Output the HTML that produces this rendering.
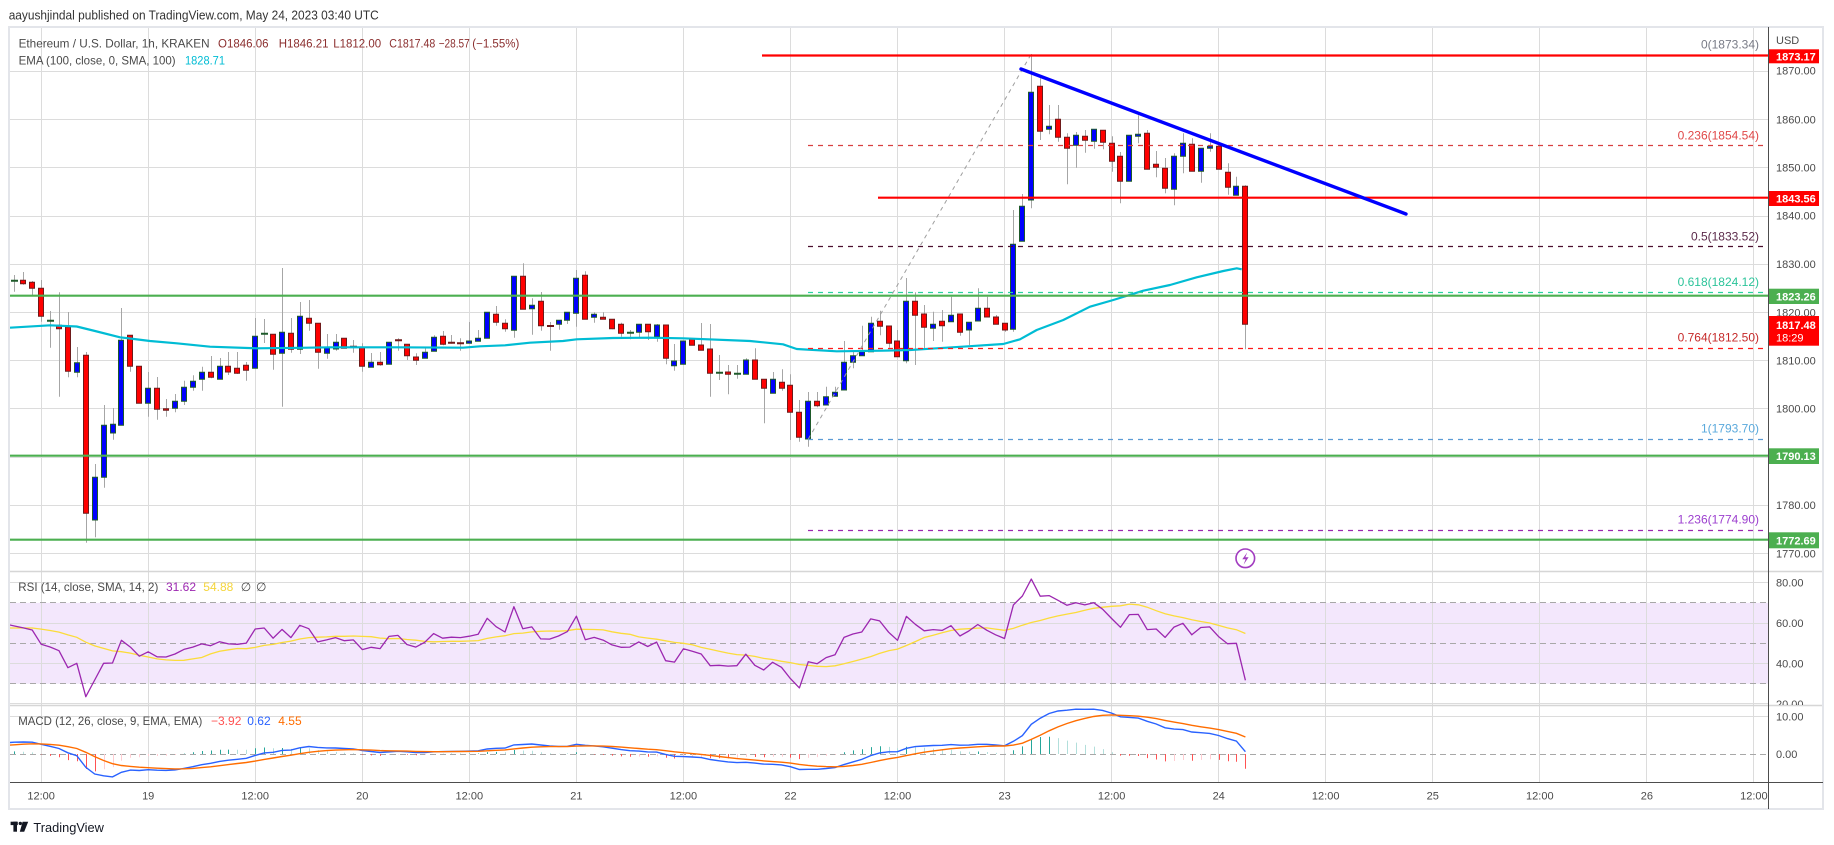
<!DOCTYPE html>
<html><head><meta charset="utf-8"><title>ETH/USD 1h</title>
<style>
html,body{margin:0;padding:0;background:#fff}
body{width:1834px;height:845px;overflow:hidden;position:relative}
svg{position:absolute;left:0;top:0;display:block}
text{font-family:"Liberation Sans",Arial,sans-serif}
</style></head><body>
<svg width="1834" height="845" viewBox="0 0 1834 845" xmlns="http://www.w3.org/2000/svg">
<defs>
<clipPath id="cm"><rect x="10" y="28" width="1758" height="543.5"/></clipPath>
<clipPath id="cr"><rect x="10" y="572" width="1758" height="133"/></clipPath>
<clipPath id="cd"><rect x="10" y="706" width="1758" height="76"/></clipPath>
<clipPath id="cax"><rect x="1769" y="572" width="60" height="133"/></clipPath>
</defs>
<rect width="1834" height="845" fill="#fff"/>
<rect x="10" y="602.9" width="1758" height="80.8" fill="#f3e7fc"/>

<!-- grid -->
<g stroke="#dcdcdc" stroke-width="1" fill="none">
<path d="M10 71.5H1768M10 119.5H1768M10 167.5H1768M10 216.5H1768M10 264.5H1768M10 312.5H1768M10 360.5H1768M10 408.5H1768M10 457.5H1768M10 505.5H1768M10 553.5H1768M10 582.5H1768M10 623.5H1768M10 663.5H1768M10 703.5H1768M10 716.5H1768"/>
<path d="M41.5 28V782M148.5 28V782M255.5 28V782M362.5 28V782M469.5 28V782M576.5 28V782M683.5 28V782M790.5 28V782M897.5 28V782M1004.5 28V782M1111.5 28V782M1218.5 28V782M1325.5 28V782M1432.5 28V782M1539.5 28V782M1646.5 28V782M1753.5 28V782"/>
</g>
<path d="M10 602.5H1768M10 643.5H1768M10 683.5H1768M10 754.5H1768" stroke="#a8a8a8" stroke-width="1" stroke-dasharray="6,4" fill="none"/>

<g clip-path="url(#cm)">
<!-- wicks -->
<path fill="none" stroke="#a6a6a6" stroke-width="1" d="M14.5 275V291.7M23.5 272V284.7M32.5 281V295M41.5 280V321.7M50.5 311V347.7M59.5 292.3V396.7M68.5 312V377.3M77.5 347V377.3M86.5 352V542.7M95.5 464V537.3M104.5 405V487.7M113.5 408V439.7M121.5 308V425.3M130.5 335.3V371.7M139.5 366.3V403.3M148.5 372V416.7M157.5 377V419.7M166.5 399V416.7M175.5 394V412.3M184.5 380.7V405M193.5 375.3V390.7M202.5 366.7V390.7M211.5 356V378.3M220.5 358V379.3M228.5 352V375M237.5 352V374M246.5 362V380.7M255.5 318V368.3M264.5 319V343M273.5 334.3V369.7M282.5 268V406.7M291.5 318V352.7M300.5 302V354M309.5 300V330.7M318.5 323.3V368.7M327.5 334V358.7M336.5 334V350.7M344.5 338.3V348.3M353.5 340V352.7M362.5 343.3V371.7M371.5 353V367.3M380.5 352V365.7M389.5 342.3V364.3M398.5 338.3V350.7M407.5 344.3V360M416.5 353.3V365M425.5 348.3V358.3M434.5 335.3V351.3M443.5 331V345.3M451.5 335V343.7M460.5 338.3V350.7M469.5 322V343.3M478.5 330V341.3M487.5 312.3V338.3M496.5 306V325.7M505.5 319.3V331.7M514.5 276.3V337.7M523.5 263.3V309.3M532.5 298.3V334.7M541.5 292V330.7M550.5 322V350.7M559.5 320.3V329.7M567.5 312.3V324M576.5 270V326.7M585.5 271.3V319.3M594.5 312.3V322.7M603.5 312.3V319.3M612.5 319.3V329.3M621.5 322.7V336.7M630.5 330V339.3M639.5 324.3V338.3M648.5 324.3V340M657.5 324V341.7M666.5 325V364.3M674.5 344V370.7M683.5 341V364.3M692.5 339V345.3M701.5 323V350.3M710.5 324V396.7M719.5 355V380M728.5 365V394.3M737.5 365V378.7M746.5 358.3V374.3M755.5 348.3V379.3M764.5 379.3V423.3M773.5 372V393.3M782.5 369.3V390.7M790.5 374.3V440M799.5 400V441.7M808.5 392V446.7M817.5 392V407.3M826.5 386.7V405M835.5 386.7V396.3M844.5 341V390M853.5 351.7V368.3M862.5 325.7V355.7M871.5 316.7V351.7M880.5 310.7V335.3M889.5 326V347.7M897.5 330V356.7M906.5 278V363.3M915.5 292.3V365M924.5 305V348.3M933.5 311.7V341M942.5 310V341.7M951.5 296.7V321.7M960.5 314V335.7M969.5 322.3V345M978.5 288.3V321M987.5 296.7V317M996.5 315V324.3M1005.5 323.3V331.7M1013.5 210V331.7M1022.5 194V241.3M1031.5 54V208.3M1040.5 78.3V140M1049.5 105V134.3M1058.5 105V141.7M1067.5 133.3V184.3M1076.5 132V167.7M1085.5 130V152.7M1094.5 129.3V148.7M1103.5 130.3V149.3M1112.5 136.3V171.7M1120.5 152V203.3M1129.5 135.3V181.3M1138.5 115.3V143.3M1147.5 130V169.3M1156.5 151V177.3M1165.5 158V193.3M1174.5 153.3V205.3M1183.5 133.3V173.3M1192.5 138.3V171.3M1201.5 148.3V182.7M1210.5 133.3V151.7M1219.5 146.3V169.3M1228.5 163.3V194.7M1236.5 176.7V195.3M1245.5 185.3V349.3"/>
<!-- up bodies -->
<path fill="#0000ff" stroke="#1e5a2a" stroke-width="1" d="M74.5 362.7h5v9.6h-5zM92.5 477.3h5v42.7h-5zM101.5 425.3h5v52h-5zM110.5 424.3h5v8.7h-5zM118.5 340.3h5v85h-5zM145.5 388.3h5v15h-5zM172.5 401.3h5v7h-5zM181.5 387.3h5v14h-5zM190.5 381.3h5v6h-5zM199.5 372.3h5v7h-5zM217.5 366.3h5v13h-5zM252.5 336.3h5v32h-5zM279.5 332.3h5v21h-5zM297.5 316.3h5v33h-5zM324.5 347.3h5v6h-5zM333.5 342.3h5v6.7h-5zM368.5 362.3h5v5h-5zM386.5 342.3h5v22h-5zM422.5 352.3h5v6h-5zM431.5 337.3h5v14h-5zM466.5 341h5v2.3h-5zM475.5 338.3h5v3h-5zM484.5 312.3h5v26h-5zM511.5 276.3h5v54h-5zM529.5 305.3h5v3.4h-5zM556.5 320.3h5v4h-5zM564.5 312.3h5v8h-5zM573.5 278.3h5v35h-5zM591.5 314.3h5v3h-5zM636.5 324.3h5v8h-5zM654.5 325h5v11.7h-5zM671.5 361h5v4.7h-5zM680.5 341h5v23.3h-5zM743.5 360h5v14.3h-5zM770.5 379.3h5v14h-5zM805.5 401.3h5v37.7h-5zM823.5 396.7h5v8.3h-5zM832.5 392.3h5v4h-5zM841.5 362.3h5v27.7h-5zM850.5 355.7h5v6.6h-5zM859.5 351.7h5v4h-5zM868.5 323.3h5v28.4h-5zM903.5 301.3h5v59.4h-5zM930.5 324.3h5v4h-5zM948.5 315.3h5v6.4h-5zM966.5 322.3h5v7.7h-5zM975.5 308.3h5v12.7h-5zM1010.5 244.3h5v85h-5zM1019.5 206.3h5v35h-5zM1028.5 92.3h5v107.7h-5zM1046.5 126.3h5v3h-5zM1073.5 135.3h5v10h-5zM1091.5 129.3h5v12h-5zM1126.5 135.3h5v46h-5zM1135.5 134.3h5v2h-5zM1171.5 156.3h5v33h-5zM1180.5 143.3h5v13h-5zM1198.5 148.3h5v23h-5zM1207.5 146.3h5v2h-5zM1233.5 186.3h5v9h-5z"/>
<!-- down bodies -->
<path fill="#ff0000" stroke="#6e1a1a" stroke-width="1" d="M20.5 280.3h5v3.4h-5zM29.5 282.3h5v6h-5zM38.5 288.3h5v28h-5zM56.5 325.3h5v3.4h-5zM65.5 327h5v44.3h-5zM83.5 355.3h5v158h-5zM127.5 335.3h5v31h-5zM136.5 366.3h5v37h-5zM154.5 388.3h5v21h-5zM163.5 408.7h5v1.6h-5zM208.5 372.3h5v5h-5zM225.5 366.3h5v5.7h-5zM234.5 368.3h5v5h-5zM243.5 365.3h5v5h-5zM270.5 334.3h5v20h-5zM288.5 333.3h5v16h-5zM306.5 318.3h5v5h-5zM315.5 323.3h5v29h-5zM341.5 338.3h5v10h-5zM359.5 347.3h5v19h-5zM377.5 362.3h5v2.4h-5zM404.5 344.3h5v11.4h-5zM413.5 357h5v3.3h-5zM440.5 336.3h5v8h-5zM493.5 314.3h5v8h-5zM502.5 323.3h5v5.4h-5zM520.5 276.3h5v33h-5zM538.5 301.3h5v24.4h-5zM582.5 275.3h5v44h-5zM600.5 317.3h5v2h-5zM609.5 319.3h5v9.4h-5zM618.5 324.3h5v9h-5zM645.5 324.3h5v7.4h-5zM663.5 325h5v33.3h-5zM689.5 339h5v6.3h-5zM698.5 345h5v5.3h-5zM707.5 349h5v24.3h-5zM725.5 372h5v2.3h-5zM752.5 360h5v19.3h-5zM761.5 379.3h5v9h-5zM779.5 382.3h5v6h-5zM787.5 385.3h5v27h-5zM796.5 412.3h5v25h-5zM814.5 401.3h5v4.4h-5zM877.5 321.3h5v5h-5zM886.5 326h5v17.3h-5zM894.5 341h5v15.7h-5zM912.5 301.3h5v14h-5zM921.5 314h5v13.3h-5zM939.5 321.3h5v4.4h-5zM957.5 314h5v18.3h-5zM984.5 308.3h5v8.7h-5zM993.5 317h5v7.3h-5zM1002.5 323.3h5v6.7h-5zM1037.5 86.3h5v45h-5zM1055.5 119.3h5v18h-5zM1064.5 137.3h5v11h-5zM1082.5 136.3h5v4h-5zM1100.5 130.3h5v12h-5zM1109.5 143.3h5v18h-5zM1117.5 156.3h5v25h-5zM1144.5 133.3h5v36h-5zM1153.5 164.3h5v3h-5zM1162.5 168.3h5v20h-5zM1189.5 144.3h5v27h-5zM1216.5 146.3h5v23h-5zM1225.5 172.3h5v15h-5zM1242.5 186.3h5v138h-5z"/>
<!-- doji -->
<path fill="#1e5a2a" d="M11 279.7h7v2h-7zM47 319.7h7v2h-7zM261 332.7h7v2h-7zM627 331.7h7v2h-7zM716 371.7h7v2h-7zM734 372.7h7v2h-7z"/>
<path fill="#6e1a1a" d="M350 345.7h7v2h-7zM395 339.3h7v2h-7zM448 341.7h7v2h-7zM457 342.3h7v2h-7zM547 325h7v2h-7z"/>
<!-- EMA -->
<polyline fill="none" stroke="#00bcd4" stroke-width="2.2" stroke-linejoin="round" points="10,327.7 50,325.3 76.7,326.5 95,331 120,337.3 150,341 176.7,343.3 210,346.7 256.7,348.3 300,347.8 330,347.3 396.7,347.3 463,347.7 480,346.3 505,345.3 530,342.7 563,341 576.7,339.3 613,338 650,337.7 683,338.3 750,341 783,344.3 796.7,349 836.7,351.3 883,350.7 910,350 936.7,348.3 970,346.2 1003.3,344 1020,339.3 1036.7,330 1063.3,320 1090,306.7 1113.3,300 1143.3,290.7 1170,285 1196.7,277.3 1223.3,271 1236.7,268.3 1241.7,269.3"/>
<!-- fib lines -->
<g stroke-width="1.2" stroke-dasharray="5,5" fill="none">
 <line x1="808" y1="55.5" x2="1768" y2="55.5" stroke="#787b86"/>
 <line x1="808" y1="145.5" x2="1768" y2="145.5" stroke="#d84040"/>
 <line x1="808" y1="246.5" x2="1768" y2="246.5" stroke="#4a0f2e"/>
 <line x1="808" y1="292.5" x2="1768" y2="292.5" stroke="#2bd4a0"/>
 <line x1="808" y1="348.5" x2="1768" y2="348.5" stroke="#ff1a1a"/>
 <line x1="808" y1="439.5" x2="1768" y2="439.5" stroke="#5b9bd5"/>
 <line x1="808" y1="530.5" x2="1768" y2="530.5" stroke="#9c27b0"/>
</g>
<line x1="808.3" y1="439" x2="1030.7" y2="55" stroke="#9e9e9e" stroke-width="1" stroke-dasharray="4,4"/>
<line x1="762" y1="55.5" x2="1768" y2="55.5" stroke="#ff0000" stroke-width="2.2"/>
<line x1="878" y1="197.7" x2="1768" y2="197.7" stroke="#ff0000" stroke-width="2.2"/>
<line x1="10" y1="295.7" x2="1768" y2="295.7" stroke="#4caf50" stroke-width="2.2"/>
<line x1="10" y1="455.7" x2="1768" y2="455.7" stroke="#4caf50" stroke-width="2.2"/>
<line x1="10" y1="539.7" x2="1768" y2="539.7" stroke="#4caf50" stroke-width="2.2"/>
<line x1="1021" y1="69" x2="1406" y2="214" stroke="#0000ff" stroke-width="3.4" stroke-linecap="round"/>
</g>

<!-- fib labels -->
<g font-size="12" text-anchor="end">
 <text x="1759" y="48.3" fill="#787b86">0(1873.34)</text>
 <text x="1759" y="139.3" fill="#e04848">0.236(1854.54)</text>
 <text x="1759" y="240.3" fill="#5b2a4a">0.5(1833.52)</text>
 <text x="1759" y="286" fill="#2cc49a">0.618(1824.12)</text>
 <text x="1759" y="341.5" fill="#c62a2a">0.764(1812.50)</text>
 <text x="1759" y="432.5" fill="#5aa9dc">1(1793.70)</text>
 <text x="1759" y="523.3" fill="#9c3fcf">1.236(1774.90)</text>
</g>

<!-- RSI -->
<g clip-path="url(#cr)" fill="none">
<polyline stroke="#fbdc3a" stroke-width="1.3" points="5.5,628.0 14.4,628.0 23.3,627.9 32.2,628.0 41.2,629.1 50.1,630.5 59.0,632.1 67.9,634.9 76.8,637.3 85.8,642.2 94.7,645.9 103.6,648.4 112.5,650.9 121.4,651.7 130.4,653.1 139.3,655.2 148.2,657.0 157.1,658.9 166.0,659.9 175.0,660.4 183.9,660.3 192.8,658.9 201.7,657.5 210.6,653.9 219.6,651.2 228.5,649.8 237.4,648.5 246.3,648.7 255.2,647.4 264.2,645.4 273.1,644.4 282.0,642.5 290.9,641.1 299.8,639.0 308.8,637.6 317.7,637.2 326.6,636.9 335.5,636.3 344.4,636.3 353.4,636.0 362.3,636.4 371.2,636.7 380.1,638.1 389.0,638.7 398.0,638.5 406.9,639.5 415.8,640.2 424.7,641.4 433.6,641.8 442.6,641.5 451.5,641.3 460.4,641.3 469.3,641.0 478.2,640.6 487.2,638.4 496.1,636.9 505.0,635.7 513.9,633.6 522.8,633.1 531.8,631.9 540.7,631.3 549.6,631.0 558.5,631.2 567.4,630.7 576.4,629.2 585.3,629.4 594.2,629.5 603.1,629.9 612.0,631.8 621.0,633.3 629.9,634.3 638.8,636.9 647.7,638.1 656.6,639.2 665.6,640.8 674.5,642.4 683.4,643.3 692.3,644.7 701.2,647.4 710.2,649.3 719.1,651.3 728.0,653.1 736.9,654.6 745.8,655.1 754.8,656.4 763.7,658.4 772.6,659.5 781.5,661.3 790.4,662.6 799.4,664.5 808.3,665.4 817.2,666.3 826.1,666.6 835.0,665.8 844.0,663.8 852.9,661.5 861.8,659.1 870.7,656.6 879.6,653.4 888.6,650.7 897.5,649.1 906.4,645.5 915.3,641.6 924.2,637.5 933.2,635.2 942.1,632.8 951.0,630.5 959.9,629.2 968.8,628.7 977.8,628.1 986.7,627.9 995.6,629.1 1004.5,630.3 1013.4,628.4 1022.4,625.2 1031.3,622.5 1040.2,620.5 1049.1,618.0 1058.0,615.9 1067.0,614.1 1075.9,612.5 1084.8,610.3 1093.7,608.3 1102.6,607.2 1111.6,606.3 1120.5,605.8 1129.4,604.1 1138.3,604.8 1147.2,607.2 1156.2,610.7 1165.1,613.7 1174.0,615.9 1182.9,617.6 1191.8,619.7 1200.8,621.5 1209.7,623.0 1218.6,625.4 1227.5,627.9 1236.4,629.7 1245.4,633.5"/>
<polyline stroke="#9c27b0" stroke-width="1.3" stroke-linejoin="round" points="5.5,624 14.4,626 23.3,627.9 32.2,630 41.2,644.3 50.1,647 59,650.7 67.9,667.7 76.8,663.3 85.8,696.7 94.7,680 103.6,663.3 112.5,663 121.4,640.3 130.4,647.1 139.3,656.2 148.2,651.8 157.1,656.8 166.0,657.0 175.0,654.0 183.9,649.4 192.8,647.1 201.7,643.9 210.6,645.7 219.6,641.7 228.5,643.9 237.4,644.3 246.3,643.1 255.2,629.0 264.2,628.0 273.1,638.2 282.0,629.4 290.9,637.6 299.8,625.3 308.8,628.7 317.7,641.9 326.6,639.9 335.5,637.6 344.4,640.7 353.4,639.9 362.3,649.6 371.2,647.3 380.1,648.6 389.0,636.4 398.0,635.4 406.9,644.5 415.8,647.1 424.7,642.3 433.6,633.6 442.6,638.2 451.5,637.2 460.4,637.6 469.3,636.2 478.2,634.2 487.2,618.3 496.1,626.7 505.0,632.0 513.9,606.7 522.8,628.7 531.8,626.9 540.7,638.9 549.6,639.1 558.5,636.0 567.4,631.6 576.4,616.2 585.3,639.7 594.2,637.4 603.1,640.1 612.0,644.9 621.0,647.3 629.9,647.1 638.8,641.9 647.7,646.5 656.6,642.1 665.6,660.7 674.5,662.1 683.4,648.8 692.3,651.2 701.2,654.0 710.2,665.7 719.1,665.3 728.0,666.1 736.9,665.7 745.8,654.2 754.8,665.3 763.7,670.0 772.6,662.3 781.5,667.3 790.4,678.6 799.4,687.9 808.3,661.7 817.2,663.7 826.1,657.6 835.0,654.8 844.0,637.4 852.9,634.0 861.8,632.0 870.7,618.9 879.6,620.9 888.6,632.2 897.5,640.3 906.4,616.4 915.3,624.3 924.2,630.8 933.2,629.6 942.1,630.4 951.0,625.7 959.9,636.0 968.8,631.0 977.8,624.5 986.7,630.2 995.6,634.8 1004.5,638.5 1013.4,604.9 1022.4,596.0 1031.3,579.1 1040.2,596.2 1049.1,595.6 1058.0,600.3 1067.0,605.3 1075.9,602.7 1084.8,604.9 1093.7,602.7 1102.6,609.2 1111.6,618.5 1120.5,627.3 1129.4,614.6 1138.3,614.4 1147.2,629.6 1156.2,629.0 1165.1,637.4 1174.0,627.1 1182.9,623.3 1191.8,634.8 1200.8,627.5 1209.7,626.9 1218.6,636.6 1227.5,643.7 1236.4,643.3 1245.4,680.3"/>
</g>

<!-- MACD -->
<g clip-path="url(#cd)" fill="none">
<path stroke="#26a69a" stroke-width="1" d="M14.5 754V751.4M184.5 754V753.6M193.5 754V752.3M202.5 754V751M211.5 754V750.5M220.5 754V749.7M228.5 754V749.6M255.5 754V748.3M264.5 754V747.5M282.5 754V748M300.5 754V748.1M443.5 754V753.9M451.5 754V753.8M460.5 754V753.7M469.5 754V753.6M478.5 754V753.5M487.5 754V752.1M496.5 754V751.9M514.5 754V750M567.5 754V753.8M576.5 754V752.2M844.5 754V752.3M853.5 754V750.4M862.5 754V749.2M871.5 754V747.1M880.5 754V746.3M906.5 754V746.7M978.5 754V751.5M1013.5 754V750.3M1022.5 754V746.4M1031.5 754V738.9M1040.5 754V737M1049.5 754V736.7"/>
<path stroke="#b2dfdb" stroke-width="1" d="M23.5 754V751.8M32.5 754V752.4M237.5 754V749.7M246.5 754V749.8M273.5 754V748.3M291.5 754V748.9M309.5 754V748.2M318.5 754V750.1M327.5 754V751.2M336.5 754V751.9M344.5 754V752.7M353.5 754V753.3M505.5 754V752.3M523.5 754V750.5M532.5 754V750.8M541.5 754V752.3M550.5 754V753.3M559.5 754V753.8M585.5 754V753.4M889.5 754V746.9M897.5 754V748.3M915.5 754V746.8M924.5 754V747.8M933.5 754V748.6M942.5 754V749.5M951.5 754V749.8M960.5 754V751.2M969.5 754V751.7M987.5 754V752M996.5 754V752.9M1005.5 754V753.8M1058.5 754V738.1M1067.5 754V740.6M1076.5 754V742.6M1085.5 754V744.9M1094.5 754V746.6M1103.5 754V749.1M1112.5 754V752.2"/>
<path stroke="#ff5252" stroke-width="1" d="M41.5 754V754.4M50.5 754V755.9M59.5 754V757.3M68.5 754V760.1M77.5 754V761.2M86.5 754V769M95.5 754V771.4M362.5 754V754.7M371.5 754V755.4M380.5 754V755.9M407.5 754V754.7M416.5 754V755.2M594.5 754V754.5M603.5 754V754.7M612.5 754V755.6M621.5 754V756.4M630.5 754V756.8M648.5 754V756.7M666.5 754V757.7M674.5 754V758.5M710.5 754V758.1M719.5 754V758.3M728.5 754V758.3M755.5 754V757M764.5 754V757.3M790.5 754V757.6M799.5 754V759.1M1120.5 754V755.6M1129.5 754V755.7M1138.5 754V756M1147.5 754V758.1M1156.5 754V759.5M1165.5 754V761.4M1192.5 754V760.7M1219.5 754V759.9M1228.5 754V761.2M1236.5 754V761.7M1245.5 754V768.7"/>
<path stroke="#ffcdd2" stroke-width="1" d="M104.5 754V769.3M113.5 754V767.1M121.5 754V760.8M130.5 754V757.7M139.5 754V757.3M148.5 754V756M157.5 754V756M166.5 754V755.8M175.5 754V755M389.5 754V755M398.5 754V754.4M425.5 754V755M434.5 754V754.1M639.5 754V756.6M657.5 754V756.4M683.5 754V757.8M692.5 754V757.4M701.5 754V757.2M737.5 754V758M746.5 754V756.9M773.5 754V756.7M782.5 754V756.7M808.5 754V757.9M817.5 754V757.1M826.5 754V755.9M835.5 754V754.7M1174.5 754V761M1183.5 754V760M1201.5 754V759.9M1210.5 754V759.3"/>
<polyline stroke="#2962ff" stroke-width="1.4" points="5.5,742.8 14.4,742.2 23.3,742.0 32.2,742.2 41.2,744.3 50.1,746.3 59.0,748.5 67.9,752.8 76.8,755.7 85.8,767.3 94.7,774.0 103.6,775.8 112.5,776.9 121.4,772.3 130.4,770.1 139.3,770.5 148.2,769.7 157.1,770.2 166.0,770.4 175.0,769.9 183.9,768.4 192.8,766.7 201.7,764.7 210.6,763.3 219.6,761.4 228.5,760.2 237.4,759.3 246.3,758.3 255.2,755.4 264.2,752.9 273.1,752.3 282.0,750.4 290.9,750.1 299.8,747.8 308.8,746.5 317.7,747.4 326.6,747.9 335.5,748.0 344.4,748.5 353.4,748.9 362.3,750.5 371.2,751.5 380.1,752.5 389.0,751.9 398.0,751.3 406.9,751.8 415.8,752.5 424.7,752.6 433.6,751.8 442.6,751.6 451.5,751.4 460.4,751.3 469.3,751.1 478.2,750.8 487.2,749.0 496.1,748.3 505.0,748.1 513.9,744.9 522.8,744.5 531.8,744.0 540.7,745.0 549.6,745.9 558.5,746.4 567.4,746.3 576.4,744.3 585.3,745.3 594.2,745.9 603.1,746.8 612.0,748.2 621.0,749.6 629.9,750.7 638.8,751.1 647.7,751.9 656.6,752.1 665.6,754.4 674.5,756.3 683.4,756.6 692.3,757.0 701.2,757.6 710.2,759.5 719.1,760.8 728.0,761.9 736.9,762.6 745.8,762.3 754.8,763.1 763.7,764.1 772.6,764.3 781.5,764.9 790.4,766.7 799.4,769.5 808.3,769.3 817.2,769.3 826.1,768.5 835.0,767.5 844.0,764.6 852.9,761.9 861.8,759.4 870.7,755.6 879.6,752.9 888.6,751.8 897.5,751.7 906.4,748.3 915.3,746.6 924.2,746.0 933.2,745.5 942.1,745.3 951.0,744.6 959.9,745.2 968.8,745.1 977.8,744.3 986.7,744.3 995.6,744.9 1004.5,745.8 1013.4,741.3 1022.4,735.6 1031.3,724.3 1040.2,718.2 1049.1,713.5 1058.0,711.0 1067.0,710.2 1075.9,709.2 1084.8,709.3 1093.7,709.2 1102.6,710.4 1111.6,713.1 1120.5,716.8 1129.4,717.4 1138.3,718.1 1147.2,721.3 1156.2,724.0 1165.1,727.8 1174.0,729.1 1182.9,729.6 1191.8,732.0 1200.8,732.7 1209.7,733.4 1218.6,735.5 1227.5,738.6 1236.4,741.1 1245.4,751.7"/>
<polyline stroke="#ff6d00" stroke-width="1.4" points="5.5,745.4 14.4,744.8 23.3,744.2 32.2,743.8 41.2,743.9 50.1,744.4 59.0,745.2 67.9,746.7 76.8,748.5 85.8,752.3 94.7,756.6 103.6,760.5 112.5,763.7 121.4,765.5 130.4,766.4 139.3,767.2 148.2,767.7 157.1,768.2 166.0,768.6 175.0,768.9 183.9,768.8 192.8,768.4 201.7,767.6 210.6,766.8 219.6,765.7 228.5,764.6 237.4,763.5 246.3,762.5 255.2,761.1 264.2,759.4 273.1,758.0 282.0,756.5 290.9,755.2 299.8,753.7 308.8,752.3 317.7,751.3 326.6,750.6 335.5,750.1 344.4,749.8 353.4,749.6 362.3,749.8 371.2,750.1 380.1,750.6 389.0,750.8 398.0,750.9 406.9,751.1 415.8,751.4 424.7,751.6 433.6,751.7 442.6,751.7 451.5,751.6 460.4,751.5 469.3,751.4 478.2,751.3 487.2,750.8 496.1,750.3 505.0,749.9 513.9,748.9 522.8,748.0 531.8,747.2 540.7,746.8 549.6,746.6 558.5,746.6 567.4,746.5 576.4,746.1 585.3,745.9 594.2,745.9 603.1,746.1 612.0,746.5 621.0,747.1 629.9,747.8 638.8,748.5 647.7,749.2 656.6,749.7 665.6,750.7 674.5,751.8 683.4,752.7 692.3,753.6 701.2,754.4 710.2,755.4 719.1,756.5 728.0,757.6 736.9,758.6 745.8,759.3 754.8,760.1 763.7,760.9 772.6,761.6 781.5,762.2 790.4,763.1 799.4,764.4 808.3,765.4 817.2,766.2 826.1,766.6 835.0,766.8 844.0,766.4 852.9,765.5 861.8,764.3 870.7,762.5 879.6,760.6 888.6,758.8 897.5,757.4 906.4,755.6 915.3,753.8 924.2,752.2 933.2,750.9 942.1,749.8 951.0,748.7 959.9,748.0 968.8,747.4 977.8,746.8 986.7,746.3 995.6,746.0 1004.5,746.0 1013.4,745.1 1022.4,743.2 1031.3,739.4 1040.2,735.2 1049.1,730.8 1058.0,726.9 1067.0,723.5 1075.9,720.7 1084.8,718.4 1093.7,716.5 1102.6,715.3 1111.6,714.9 1120.5,715.3 1129.4,715.7 1138.3,716.2 1147.2,717.2 1156.2,718.6 1165.1,720.4 1174.0,722.1 1182.9,723.6 1191.8,725.3 1200.8,726.8 1209.7,728.1 1218.6,729.6 1227.5,731.4 1236.4,733.3 1245.4,737.0"/>
</g>

<!-- event marker -->
<circle cx="1245.3" cy="558.3" r="9.3" fill="#fff" stroke="#a23cc0" stroke-width="1.6"/>
<path d="M1247.3,552.3 L1242.3,559.3 L1245.6,559.3 L1243.6,564.6 L1248.6,557.3 L1245.3,557.3 Z" fill="#a23cc0"/>

<!-- dividers and axes -->
<line x1="10" y1="571.5" x2="1823" y2="571.5" stroke="#d6d6d6" stroke-width="1.5"/>
<line x1="10" y1="705.5" x2="1823" y2="705.5" stroke="#d6d6d6" stroke-width="1.5"/>
<rect x="9" y="27" width="1814" height="782" fill="none" stroke="#e3e5ea" stroke-width="2"/>
<line x1="1768.5" y1="27" x2="1768.5" y2="809" stroke="#4d4d4d" stroke-width="1"/>
<line x1="10" y1="782.5" x2="1823" y2="782.5" stroke="#4d4d4d" stroke-width="1"/>

<!-- header text -->
<text x="8.7" y="19.5" font-size="13" fill="#333" textLength="370" lengthAdjust="spacingAndGlyphs">aayushjindal published on TradingView.com, May 24, 2023 03:40 UTC</text>
<g font-size="12">
 <text x="18.6" y="47.6" fill="#4a4a4a" textLength="191" lengthAdjust="spacingAndGlyphs">Ethereum / U.S. Dollar, 1h, KRAKEN</text>
 <text x="185" y="64.3" fill="#00bcd4" textLength="40" lengthAdjust="spacingAndGlyphs">1828.71</text>
 <text x="18.6" y="64.3" fill="#4a4a4a" textLength="157" lengthAdjust="spacingAndGlyphs">EMA (100, close, 0, SMA, 100)</text>
 <text x="18.3" y="590.8" fill="#4a4a4a" textLength="140" lengthAdjust="spacingAndGlyphs">RSI (14, close, SMA, 14, 2)</text>
 <text x="166" y="590.8" fill="#9c27b0">31.62</text>
 <text x="203.3" y="590.8" fill="#f5d53b">54.88</text>
 <text x="240.7" y="590.8" fill="#4a4a4a">∅</text>
 <text x="256" y="590.8" fill="#4a4a4a">∅</text>
 <text x="18.3" y="725.2" fill="#4a4a4a" textLength="184" lengthAdjust="spacingAndGlyphs">MACD (12, 26, close, 9, EMA, EMA)</text>
 <text x="211" y="725.2" fill="#ff5252">−3.92</text>
 <text x="247.3" y="725.2" fill="#2962ff">0.62</text>
 <text x="278.3" y="725.2" fill="#ff6d00">4.55</text>
</g>
<g font-size="11.5" fill="#8b2e2e">
 <text x="218" y="47.6">O1846.06</text>
 <text x="278.7" y="47.6">H1846.21</text>
 <text x="333.2" y="47.6">L1812.00</text>
 <text x="389.3" y="47.6" textLength="46" lengthAdjust="spacingAndGlyphs">C1817.48</text>
 <text x="438.7" y="47.6" textLength="31" lengthAdjust="spacingAndGlyphs">−28.57</text>
 <text x="472.3" y="47.6">(−1.55%)</text>
</g>

<!-- price axis labels -->
<g font-size="11" fill="#4a4a4a">
 <text x="1776" y="44">USD</text>
 <text x="1776" y="74.7">1870.00</text>
 <text x="1776" y="123.3">1860.00</text>
 <text x="1776" y="171.5">1850.00</text>
 <text x="1776" y="219.7">1840.00</text>
 <text x="1776" y="268">1830.00</text>
 <text x="1776" y="316.3">1820.00</text>
 <text x="1776" y="364.5">1810.00</text>
 <text x="1776" y="412.7">1800.00</text>
 <text x="1776" y="461">1790.00</text>
 <text x="1776" y="509.1">1780.00</text>
 <text x="1776" y="557.3">1770.00</text>
 <text x="1776" y="586.7">80.00</text>
 <text x="1776" y="627.1">60.00</text>
 <text x="1776" y="667.5">40.00</text>
 <text x="1776" y="707.9" clip-path="url(#cax)">20.00</text>
 <text x="1776" y="720.7">10.00</text>
 <text x="1776" y="758">0.00</text>
</g>
<g font-size="11" font-weight="bold" fill="#fff">
 <rect x="1769" y="49.3" width="50" height="14" fill="#ff0000"/>
 <text x="1776" y="60.3">1873.17</text>
 <rect x="1769" y="191" width="50" height="15" fill="#ff0000"/>
 <text x="1776" y="202.5">1843.56</text>
 <rect x="1769" y="288.7" width="50" height="15.3" fill="#4caf50"/>
 <text x="1776" y="300.3">1823.26</text>
 <rect x="1769" y="316" width="50" height="29.7" fill="#ff0000"/>
 <text x="1776" y="328.8">1817.48</text>
 <text x="1776" y="341.5" font-weight="normal">18:29</text>
 <rect x="1769" y="448.3" width="50" height="15.7" fill="#4caf50"/>
 <text x="1776" y="460">1790.13</text>
 <rect x="1769" y="532.3" width="50" height="16" fill="#4caf50"/>
 <text x="1776" y="544.3">1772.69</text>
</g>

<!-- time axis labels -->
<g font-size="11" fill="#4a4a4a" text-anchor="middle">
 <text x="41.1" y="799.3">12:00</text>
 <text x="148.2" y="799.3">19</text>
 <text x="255.2" y="799.3">12:00</text>
 <text x="362.3" y="799.3">20</text>
 <text x="469.3" y="799.3">12:00</text>
 <text x="576.4" y="799.3">21</text>
 <text x="683.4" y="799.3">12:00</text>
 <text x="790.5" y="799.3">22</text>
 <text x="897.5" y="799.3">12:00</text>
 <text x="1004.6" y="799.3">23</text>
 <text x="1111.6" y="799.3">12:00</text>
 <text x="1218.7" y="799.3">24</text>
 <text x="1325.7" y="799.3">12:00</text>
 <text x="1432.8" y="799.3">25</text>
 <text x="1539.8" y="799.3">12:00</text>
 <text x="1646.9" y="799.3">26</text>
 <text x="1753.9" y="799.3">12:00</text>
</g>

<!-- TradingView logo -->
<g fill="#131722">
 <rect x="10.6" y="821.7" width="7.2" height="3.4"/>
 <rect x="13.4" y="821.7" width="3.6" height="10"/>
 <circle cx="20.3" cy="823.4" r="1.7"/>
 <path d="M22.6,821.7 L28.2,821.7 L24.2,831.7 L19.8,831.7 Z"/>
</g>
<text x="33.4" y="832" font-size="13" fill="#131722" textLength="70.5" lengthAdjust="spacingAndGlyphs">TradingView</text>
</svg>
</body></html>
